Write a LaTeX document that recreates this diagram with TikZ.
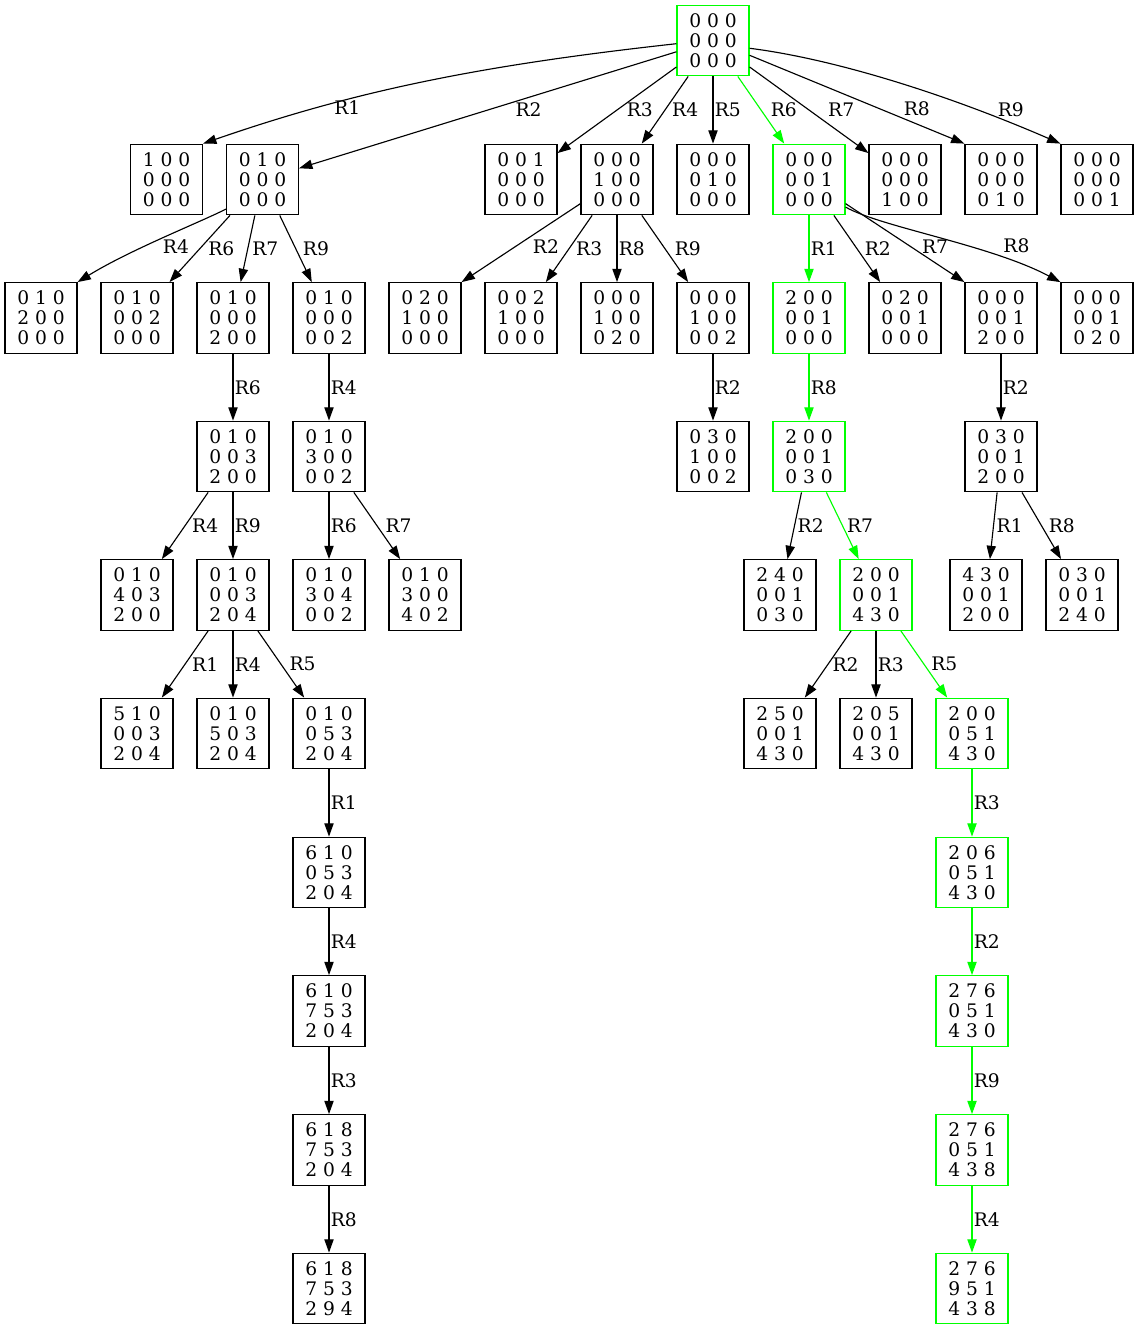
\documentclass[tikz,border=0pt]{standalone}
\usepackage{fontspec}
\setmainfont{DejaVu Serif}
\usetikzlibrary{arrows.meta}
\definecolor{pathgreen}{RGB}{0,255,0}
\tikzset{
  board/.style={draw, line width=0.85pt, minimum width=54pt, minimum height=53pt,
    inner sep=0pt, align=center, font=\fontsize{14pt}{15pt}\selectfont},
  goal/.style={board, draw=pathgreen},
  move/.style={line width=0.85pt, -{Triangle[length=10pt,width=7pt]}},
  best/.style={move, draw=pathgreen},
  lbl/.style={anchor=west, inner sep=1pt, font=\fontsize{14pt}{15pt}\selectfont},
}
\begin{document}
\begin{tikzpicture}[x=0.75pt, y=-0.75pt]
\useasboundingbox (0,0) rectangle (1139,1329);

\node[goal] (root) at (713,40.5) {0 0 0\\0 0 0\\0 0 0};

\node[board] (a1) at (166.5,179.5) {1 0 0\\0 0 0\\0 0 0};
\node[board] (a2) at (262.5,179.5) {0 1 0\\0 0 0\\0 0 0};
\node[board] (a3) at (521,179.5) {0 0 1\\0 0 0\\0 0 0};
\node[board] (a4) at (617,179.5) {0 0 0\\1 0 0\\0 0 0};
\node[board] (a5) at (713,179.5) {0 0 0\\0 1 0\\0 0 0};
\node[goal]  (a6) at (809,179.5) {0 0 0\\0 0 1\\0 0 0};
\node[board] (a7) at (905,179.5) {0 0 0\\0 0 0\\1 0 0};
\node[board] (a8) at (1001,179.5) {0 0 0\\0 0 0\\0 1 0};
\node[board] (a9) at (1097,179.5) {0 0 0\\0 0 0\\0 0 1};

\node[board] (b1) at (41,318) {0 1 0\\2 0 0\\0 0 0};
\node[board] (b2) at (137,318) {0 1 0\\0 0 2\\0 0 0};
\node[board] (b3) at (233,318) {0 1 0\\0 0 0\\2 0 0};
\node[board] (b4) at (329,318) {0 1 0\\0 0 0\\0 0 2};
\node[board] (b5) at (425,318) {0 2 0\\1 0 0\\0 0 0};
\node[board] (b6) at (521,318) {0 0 2\\1 0 0\\0 0 0};
\node[board] (b7) at (617,318) {0 0 0\\1 0 0\\0 2 0};
\node[board] (b8) at (713,318) {0 0 0\\1 0 0\\0 0 2};
\node[goal]  (b9) at (809,318) {2 0 0\\0 0 1\\0 0 0};
\node[board] (b10) at (905,318) {0 2 0\\0 0 1\\0 0 0};
\node[board] (b11) at (1001,318) {0 0 0\\0 0 1\\2 0 0};
\node[board] (b12) at (1097,318) {0 0 0\\0 0 1\\0 2 0};

\node[board] (c1) at (233,456.5) {0 1 0\\0 0 3\\2 0 0};
\node[board] (c2) at (329,456.5) {0 1 0\\3 0 0\\0 0 2};
\node[board] (c3) at (713,456.5) {0 3 0\\1 0 0\\0 0 2};
\node[goal]  (c4) at (809,456.5) {2 0 0\\0 0 1\\0 3 0};
\node[board] (c5) at (1001,456.5) {0 3 0\\0 0 1\\2 0 0};

\node[board] (d1) at (137,595) {0 1 0\\4 0 3\\2 0 0};
\node[board] (d2) at (233,595) {0 1 0\\0 0 3\\2 0 4};
\node[board] (d3) at (329,595) {0 1 0\\3 0 4\\0 0 2};
\node[board] (d4) at (425,595) {0 1 0\\3 0 0\\4 0 2};
\node[board] (d5) at (780,595) {2 4 0\\0 0 1\\0 3 0};
\node[goal]  (d6) at (876,595) {2 0 0\\0 0 1\\4 3 0};
\node[board] (d7) at (986,595) {4 3 0\\0 0 1\\2 0 0};
\node[board] (d8) at (1082,595) {0 3 0\\0 0 1\\2 4 0};

\node[board] (e1) at (137,733.5) {5 1 0\\0 0 3\\2 0 4};
\node[board] (e2) at (233,733.5) {0 1 0\\5 0 3\\2 0 4};
\node[board] (e3) at (329,733.5) {0 1 0\\0 5 3\\2 0 4};
\node[board] (e4) at (780,733.5) {2 5 0\\0 0 1\\4 3 0};
\node[board] (e5) at (876,733.5) {2 0 5\\0 0 1\\4 3 0};
\node[goal]  (e6) at (972,733.5) {2 0 0\\0 5 1\\4 3 0};

\node[board] (f1) at (329,872.5) {6 1 0\\0 5 3\\2 0 4};
\node[goal]  (f2) at (972,872.5) {2 0 6\\0 5 1\\4 3 0};
\node[board] (g1) at (329,1011) {6 1 0\\7 5 3\\2 0 4};
\node[goal]  (g2) at (972,1011) {2 7 6\\0 5 1\\4 3 0};
\node[board] (h1) at (329,1150) {6 1 8\\7 5 3\\2 0 4};
\node[goal]  (h2) at (972,1150) {2 7 6\\0 5 1\\4 3 8};
\node[board] (i1) at (329,1288.5) {6 1 8\\7 5 3\\2 9 4};
\node[goal]  (i2) at (972,1288.5) {2 7 6\\9 5 1\\4 3 8};

\draw[move] (root.185) .. controls +(-200,22) and +(150,-52) .. (a1.north east)
  node[lbl, pos=.74, xshift=12pt] {R1};
\draw[move] (root) -- node[lbl, xshift=19.5pt] {R2} (a2);
\draw[move] (root) -- node[lbl, xshift=6pt] {R3} (a3);
\draw[move] (root) -- node[lbl, xshift=4pt] {R4} (a4);
\draw[move] (root) -- node[lbl] {R5} (a5);
\draw[best] (root) -- node[lbl, xshift=6pt] {R6} (a6);
\draw[move] (root) -- node[lbl, xshift=13pt] {R7} (a7);
\draw[move] (root.-22) -- node[lbl, pos=.61, xshift=16pt] {R8} (a8.north west);
\draw[move] (root.-12) .. controls +(80,10) and +(-120,-52) .. (a9.north west)
  node[lbl, pos=.76, xshift=15pt] {R9};

\draw[move] (a2.219) .. controls +(-26.5,13.4) and +(53,-32.5) .. (b1.north east)
  node[lbl, pos=.6, xshift=12pt] {R4};
\draw[move] (a2) -- node[lbl, xshift=5pt] {R6} (b2);
\draw[move] (a2) -- node[lbl, xshift=2pt] {R7} (b3);
\draw[move] (a2) -- node[lbl, xshift=4pt] {R9} (b4);
\draw[move] (a4) -- node[lbl, pos=.55, xshift=12pt] {R2} (b5.north east);
\draw[move] (a4) -- node[lbl, xshift=4pt] {R3} (b6);
\draw[move] (a4) -- node[lbl] {R8} (b7);
\draw[move] (a4) -- node[lbl, xshift=6pt] {R9} (b8);
\draw[best] (a6) -- node[lbl] {R1} (b9);
\draw[move] (a6) -- node[lbl, xshift=4.5pt] {R2} (b10);
\draw[move] (a6) -- node[lbl, pos=.55, xshift=7pt] {R7} (b11.north west);
\draw[move] (a6.-37) .. controls +(35,20) and +(-71,-37.5) .. (b12.north west)
  node[lbl, pos=.6, xshift=28pt] {R8};

\draw[move] (b3) -- node[lbl] {R6} (c1);
\draw[move] (b4) -- node[lbl] {R4} (c2);
\draw[move] (b8) -- node[lbl] {R2} (c3);
\draw[best] (b9) -- node[lbl] {R8} (c4);
\draw[move] (b11) -- node[lbl] {R2} (c5);

\draw[move] (c1) -- node[lbl, xshift=4pt] {R4} (d1);
\draw[move] (c1) -- node[lbl] {R9} (d2);
\draw[move] (c2) -- node[lbl] {R6} (d3);
\draw[move] (c2) -- node[lbl, xshift=5pt] {R7} (d4);
\draw[move] (c4) -- node[lbl, xshift=1pt] {R2} (d5);
\draw[best] (c4) -- node[lbl, xshift=2pt] {R7} (d6);
\draw[move] (c5) -- node[lbl, xshift=1pt] {R1} (d7);
\draw[move] (c5) -- node[lbl, xshift=4pt] {R8} (d8);

\draw[move] (d2) -- node[lbl, xshift=4pt] {R1} (e1);
\draw[move] (d2) -- node[lbl] {R4} (e2);
\draw[move] (d2) -- node[lbl, xshift=5pt] {R5} (e3);
\draw[move] (d6) -- node[lbl, xshift=2pt] {R2} (e4);
\draw[move] (d6) -- node[lbl] {R3} (e5);
\draw[best] (d6) -- node[lbl, xshift=4pt] {R5} (e6);

\draw[move] (e3) -- node[lbl] {R1} (f1);
\draw[move] (f1) -- node[lbl] {R4} (g1);
\draw[move] (g1) -- node[lbl] {R3} (h1);
\draw[move] (h1) -- node[lbl] {R8} (i1);
\draw[best] (e6) -- node[lbl] {R3} (f2);
\draw[best] (f2) -- node[lbl] {R2} (g2);
\draw[best] (g2) -- node[lbl] {R9} (h2);
\draw[best] (h2) -- node[lbl] {R4} (i2);
\end{tikzpicture}
\end{document}
